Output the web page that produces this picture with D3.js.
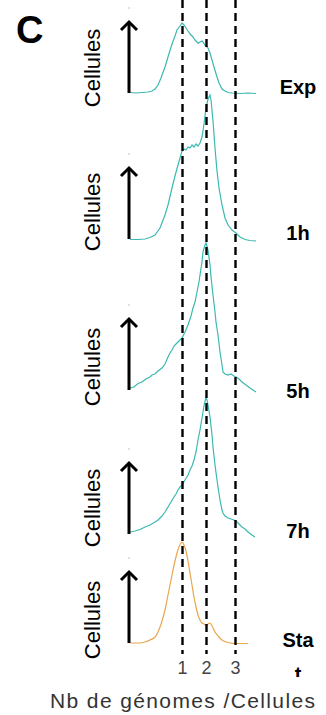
<!DOCTYPE html>
<html><head><meta charset="utf-8">
<script src="https://cdn.jsdelivr.net/npm/d3@7"></script>
<style>html,body{margin:0;padding:0;background:#fff;}svg{display:block;}</style>
</head><body>
<script>
// ---- data ----
const panelNames = ["Exp", "1h", "5h", "7h", "Stat"];
const genomeChannels = [105, 153, 211];
const genomeLabels = ["1", "2", "3"];
const axisTitle = "Nb de génomes /Cellules";
const yTitle = "Cellules";
const panelLetter = "C";

const expData = [[0,2],[12,1],[24,2],[36,3],[44,5],[50,9],[56,17],[62,31],[70,53],[76,73],[84,99],[90,115],[94,127],[100,135],[104,141],[108,137],[112,131],[116,125],[122,117],[126,113],[130,107],[134,103],[136,100],[140,103],[144,105],[146,103],[150,97],[156,91],[160,81],[164,67],[168,53],[174,33],[178,21],[184,9],[190,5],[196,2],[204,1],[220,0],[236,1],[252,0]];
const h1Data = [[0,3],[16,3],[30,4],[40,7],[50,12],[60,26],[70,52],[76,72],[84,106],[90,130],[96,152],[100,166],[104,180],[108,184],[112,182],[116,188],[120,186],[124,192],[128,188],[132,194],[136,190],[140,196],[144,208],[148,234],[152,266],[156,284],[160,292],[162,282],[166,240],[170,186],[174,140],[178,106],[184,72],[190,46],[196,32],[204,22],[212,16],[220,8],[230,3],[240,1],[252,0]];
const h5Data = [[0,8],[8,10],[16,17],[24,20],[32,26],[40,30],[44,34],[50,36],[56,42],[64,48],[70,56],[76,70],[80,78],[84,84],[88,92],[92,96],[96,100],[100,104],[104,108],[110,120],[116,134],[122,152],[126,168],[130,180],[134,200],[138,220],[140,234],[144,260],[146,280],[150,294],[152,298],[156,284],[160,254],[162,230],[166,194],[170,160],[172,140],[176,114],[180,80],[184,54],[186,40],[190,36],[196,34],[202,36],[208,32],[212,30],[218,26],[224,20],[232,14],[240,8],[246,4],[252,0]];
const h7Data = [[0,12],[10,14],[20,17],[30,22],[40,26],[50,32],[56,36],[64,44],[70,52],[76,62],[82,72],[88,82],[92,88],[96,96],[100,102],[104,106],[110,116],[116,126],[120,136],[124,144],[128,156],[132,172],[136,196],[140,216],[144,240],[148,264],[152,282],[154,276],[156,266],[160,242],[164,206],[166,182],[170,146],[174,116],[176,102],[180,76],[184,56],[186,50],[190,44],[196,40],[202,38],[208,36],[212,34],[218,28],[224,22],[230,18],[236,12],[244,6],[250,2]];
const statData = [[0,1],[20,1],[30,3],[40,7],[50,13],[56,23],[60,33],[64,45],[70,67],[76,97],[82,127],[86,147],[90,165],[94,181],[98,193],[102,201],[104,203],[108,197],[112,185],[116,165],[120,141],[124,117],[128,93],[132,73],[136,57],[140,47],[144,41],[148,39],[152,37],[156,39],[160,41],[162,39],[166,31],[170,23],[176,15],[184,7],[192,3],[200,1],[212,0],[224,0],[236,0]];
const seriesData = [expData, h1Data, h5Data, h7Data, statData];

// ---- layout ----
const W = 326, H = 715;
const teal = "#3bb9b1", orange = "#eaa64c";
const layout = [
  {base: 93.5, arrowBase: 93, labelY: 94, cellY: 68, color: teal, curve: d3.curveLinear},
  {base: 241, arrowBase: 239, labelY: 240, cellY: 212, color: teal, curve: d3.curveLinear},
  {base: 392, arrowBase: 390, labelY: 398, cellY: 367, color: teal, curve: d3.curveLinear},
  {base: 538, arrowBase: 534, labelY: 538, cellY: 508, color: teal, curve: d3.curveLinear},
  {base: 643.5, arrowBase: 643, labelY: 647, cellY: 620, color: orange, curve: d3.curveMonotoneX}
];

const svg = d3.select("body").append("svg").attr("width", W).attr("height", H);
const x = d3.scaleLinear().domain([0, 252]).range([130, 256]);
const h = d3.scaleLinear().domain([0, 300]).range([0, 150]);

// letter
svg.append("text").attr("x", 16).attr("y", 43)
  .attr("font-family", "Liberation Sans, Arial, sans-serif").attr("font-weight", "bold")
  .attr("font-size", 38).attr("fill", "#000").text(panelLetter);

// curves
seriesData.forEach((d, i) => {
  const L = layout[i];
  const line = d3.line().x(p => x(p[0])).y(p => L.base - h(p[1])).curve(L.curve);
  svg.append("path").datum(d).attr("d", line)
    .attr("fill", "none").attr("stroke", L.color).attr("stroke-width", 1.2);
});

// dashed lines
svg.selectAll("line.gen").data(genomeChannels).enter().append("line")
  .attr("x1", d => x(d)).attr("x2", d => x(d)).attr("y1", 0).attr("y2", 654)
  .attr("stroke", "#000").attr("stroke-width", 2.4).attr("stroke-dasharray", "8,5");

// tick labels
svg.selectAll("text.tick").data(genomeChannels).enter().append("text")
  .attr("x", d => x(d)).attr("y", 674).attr("text-anchor", "middle")
  .attr("font-family", "Liberation Sans, Arial, sans-serif").attr("font-size", 18)
  .attr("fill", "#444").text((d, i) => genomeLabels[i]);

// arrows, y titles, labels
const clip = svg.append("clipPath").attr("id", "cl").append("rect")
  .attr("x", 0).attr("y", 0).attr("width", W).attr("height", 677);
layout.forEach((L, i) => {
  const ax = 129, tip = L.arrowBase - 72;
  svg.append("line").attr("x1", ax).attr("x2", ax).attr("y1", L.arrowBase).attr("y2", tip + 1)
    .attr("stroke", "#000").attr("stroke-width", 3);
  svg.append("path").attr("d", `M${ax - 8},${tip + 9}L${ax},${tip + 1}L${ax + 8},${tip + 9}`)
    .attr("fill", "none").attr("stroke", "#000").attr("stroke-width", 3);
  svg.append("circle").attr("cx", ax).attr("cy", tip - 13).attr("r", 0.7).attr("fill", "#aaa");
  svg.append("text").attr("transform", `translate(100,${L.cellY}) rotate(-90)`)
    .attr("text-anchor", "middle").attr("font-family", "Liberation Sans, Arial, sans-serif")
    .attr("font-size", 22).attr("fill", "#000").text(yTitle);
  const name = panelNames[i];
  const t = svg.append("text").attr("x", 298).attr("y", L.labelY).attr("text-anchor", "middle")
    .attr("font-family", "Liberation Sans, Arial, sans-serif").attr("font-weight", "bold")
    .attr("font-size", 20).attr("fill", "#000").attr("clip-path", "url(#cl)");
  if (name.length > 3) {
    t.append("tspan").attr("x", 298).text(name.slice(0, 3));
    t.append("tspan").attr("x", 298).attr("dy", 34).text(name.slice(3));
  } else t.text(name);
});

// axis title
svg.append("text").attr("x", 182.5).attr("y", 708).attr("text-anchor", "middle")
  .attr("font-family", "Liberation Sans, Arial, sans-serif").attr("font-size", 21)
  .attr("fill", "#333").attr("textLength", 265).attr("lengthAdjust", "spacing").text(axisTitle);
</script>
</body></html>
